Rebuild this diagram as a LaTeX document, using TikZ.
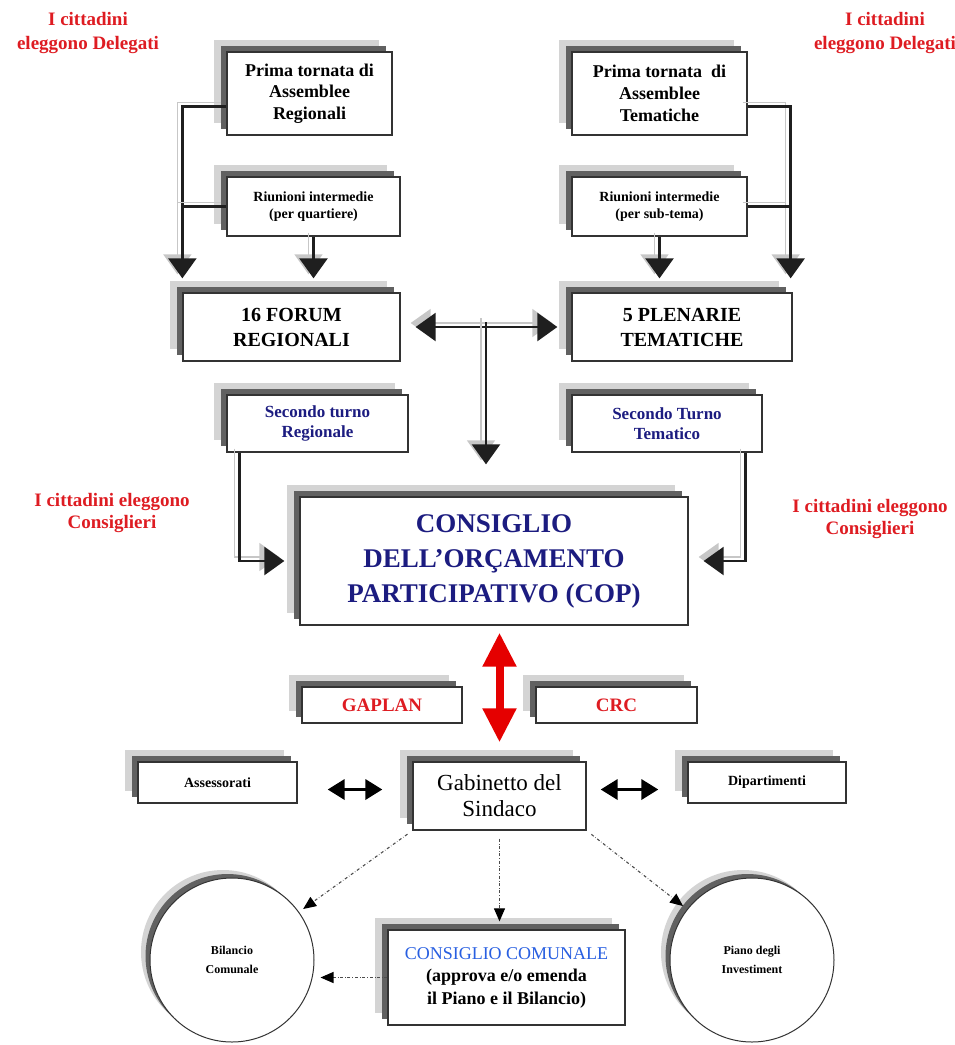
\documentclass[tikz,border=0pt]{standalone}
\usepackage{fontspec}
\setmainfont{Liberation Serif}
\usepackage{tikz}
\usetikzlibrary{arrows.meta,shadows}

\definecolor{cred}{RGB}{222,28,34}
\definecolor{cnavy}{RGB}{28,28,128}
\definecolor{cblue}{RGB}{40,95,225}

\tikzset{
  box/.style={draw=black!80, line width=1.3pt, fill=white, align=center, inner sep=2pt,
    general shadow={fill=black!17, shadow xshift=-13pt, shadow yshift=12pt},
    general shadow={fill=black!62, shadow xshift=-6.5pt, shadow yshift=6pt}},
  disc/.style={circle, draw=black!80, line width=1pt, fill=white, align=center, minimum size=164pt,
    general shadow={fill=black!17, shadow xshift=-9pt, shadow yshift=8pt},
    general shadow={fill=black!62, shadow xshift=-4.5pt, shadow yshift=4pt}},
  cittadini/.style={text=cred, align=center, font=\bfseries\fontsize{19}{24}\selectfont},
  pipe/.style={->, line width=2.4pt, draw=black!88,
    preaction={draw=black!22, line width=1.6pt, transform canvas={shift={(-5pt,4pt)}}}},
  dblarrow/.style={{Triangle[length=17pt,width=20pt]}-{Triangle[length=17pt,width=20pt]}, line width=3.5pt, black},
  redarrow/.style={{Triangle[length=34pt,width=32pt]}-{Triangle[length=34pt,width=32pt]}, line width=8pt, red!90!black},
  dotarrow/.style={-{Triangle[length=13pt,width=11pt,color=black,fill=black]}, dash dot, line width=1.1pt, draw=black!70}
}

\begin{document}
\begin{tikzpicture}[x=1pt,y=-1pt]
\useasboundingbox (0,0) rectangle (955,1045);

% red notes
\node[cittadini] (notaTL) at (88,33) {I cittadini\\eleggono Delegati};
\node[cittadini] (notaTR) at (885,33) {I cittadini\\eleggono Delegati};
\node[cittadini, font=\bfseries\fontsize{19}{22}\selectfont] (notaML) at (112,513) {I cittadini eleggono\\Consiglieri};
\node[cittadini, font=\bfseries\fontsize{19}{22}\selectfont] (notaMR) at (870,519) {I cittadini eleggono\\Consiglieri};

% first round
\node[box, minimum width=165pt, minimum height=83pt, font=\bfseries\fontsize{18}{21.7}\selectfont] (pReg) at (309.5,93.5) {Prima tornata di\\Assemblee\\Regionali};
\node[box, minimum width=173pt, minimum height=59pt, font=\bfseries\fontsize{14}{16.7}\selectfont] (rReg) at (313.5,206.5) {Riunioni intermedie\\(per quartiere)};
\node[box, minimum width=175pt, minimum height=83pt, font=\bfseries\fontsize{18}{21.7}\selectfont] (pTem) at (659.5,93.5) {Prima tornata\ \ di\\Assemblee\\Tematiche};
\node[box, minimum width=175pt, minimum height=59pt, font=\bfseries\fontsize{14}{16.7}\selectfont] (rTem) at (659.5,206.5) {Riunioni intermedie\\(per sub-tema)};

\node[box, minimum width=217pt, minimum height=68pt, font=\bfseries\fontsize{20}{25}\selectfont] (fReg) at (291.5,327) {16 FORUM\\REGIONALI};
\node[box, minimum width=220pt, minimum height=68pt, font=\bfseries\fontsize{20}{25}\selectfont] (plen) at (682,327) {5 PLENARIE\\TEMATICHE};

% second round
\node[box, minimum width=181pt, minimum height=57pt, text=cnavy, font=\bfseries\fontsize{17}{19.5}\selectfont] (sReg) at (317.5,423.5) {Secondo turno\\Regionale};
\node[box, minimum width=190pt, minimum height=57pt, text=cnavy, font=\bfseries\fontsize{17}{19.5}\selectfont] (sTem) at (667,423.5) {Secondo Turno\\Tematico};

\node[box, minimum width=388pt, minimum height=128pt, text=cnavy, font=\bfseries\fontsize{27}{35}\selectfont] (cop) at (494,561) {CONSIGLIO\\DELL'OR\c{C}AMENTO\\PARTICIPATIVO (COP)};

% executive
\node[box, minimum width=160pt, minimum height=36pt, text=cred, font=\bfseries\fontsize{19}{22}\selectfont] (gaplan) at (382,705) {GAPLAN};
\node[box, minimum width=161pt, minimum height=36pt, text=cred, font=\bfseries\fontsize{19}{22}\selectfont] (crc) at (616.5,705) {CRC};
\node[box, minimum width=159pt, minimum height=41pt, font=\bfseries\fontsize{14}{16}\selectfont] (ass) at (217.5,782.5) {Assessorati};
\node[box, minimum width=173pt, minimum height=68pt, font=\fontsize{23}{26}\selectfont] (gab) at (499.5,796) {Gabinetto del\\Sindaco};
\node[box, minimum width=158pt, minimum height=41pt, font=\bfseries\fontsize{14}{16}\selectfont] (dip) at (767,782.5) {Dipartimenti};

% council
\node[disc, font=\bfseries\fontsize{12}{19}\selectfont] (bil) at (232,960) {Bilancio\\Comunale};
\node[disc, font=\bfseries\fontsize{12}{19}\selectfont] (pia) at (752,960) {Piano degli\\Investiment};
\node[box, minimum width=237pt, minimum height=95pt, font=\bfseries\fontsize{18}{22.5}\selectfont] (cc) at (506.5,977.5) {{\color{cblue}\mdseries CONSIGLIO COMUNALE}\\(approva e/o emenda\\il Piano e il Bilancio)};

\coordinate (tee) at (486,322);

\begin{scope}[>={Triangle[length=20pt,width=28pt]}]
    \draw[pipe] ([yshift=-13pt]pReg.west) -| ([yshift=14pt]fReg.north west);
    \draw[pipe,-] (rReg.west) -- (rReg.west -| fReg.west);
    \draw[pipe,shorten >=14pt] (rReg.south) -- (rReg.south |- fReg.north);
    \draw[pipe] ([yshift=-13pt]pTem.east) -| ([xshift=-2pt,yshift=14pt]plen.north east);
    \draw[pipe,-] (rTem.east) -- ([xshift=-2pt]rTem.east -| plen.east);
    \draw[pipe,shorten >=14pt] (rTem.south) -- (rTem.south |- plen.north);

    \draw[pipe,<->,shorten <=15pt,shorten >=14pt] (fReg.east) -- (plen.west);
    \draw[pipe,shorten >=32pt] (tee) -- (tee |- cop.north);

    \draw[pipe,shorten >=15pt] ([xshift=13pt]sReg.south west) |- (cop.west);
    \draw[pipe,shorten >=15pt] ([xshift=-17pt]sTem.south east) |- (cop.east);
\end{scope}

\draw[redarrow,shorten <=7pt,shorten >=19pt] (gab.north |- cop.south) -- (gab.north);
\draw[dblarrow,shorten <=30pt,shorten >=30pt] ([yshift=-7pt]ass.east) -- ([yshift=-7pt]ass.east -| gab.west);
\draw[dblarrow,shorten <=14pt,shorten >=29pt] ([yshift=-7pt]gab.east |- dip.east) -- ([yshift=-7pt]dip.west);

\draw[dotarrow,shorten <=6pt,shorten >=5pt] (gab.south west) -- (bil);
\draw[dotarrow,shorten <=8pt,shorten >=8pt] (gab.south) -- (gab.south |- cc.north);
\draw[dotarrow,shorten <=6pt,shorten >=5pt] (gab.south east) -- (pia);
\draw[dotarrow,shorten >=6pt] (cc.west) -- (cc.west -| bil.east);

\end{tikzpicture}
\end{document}
